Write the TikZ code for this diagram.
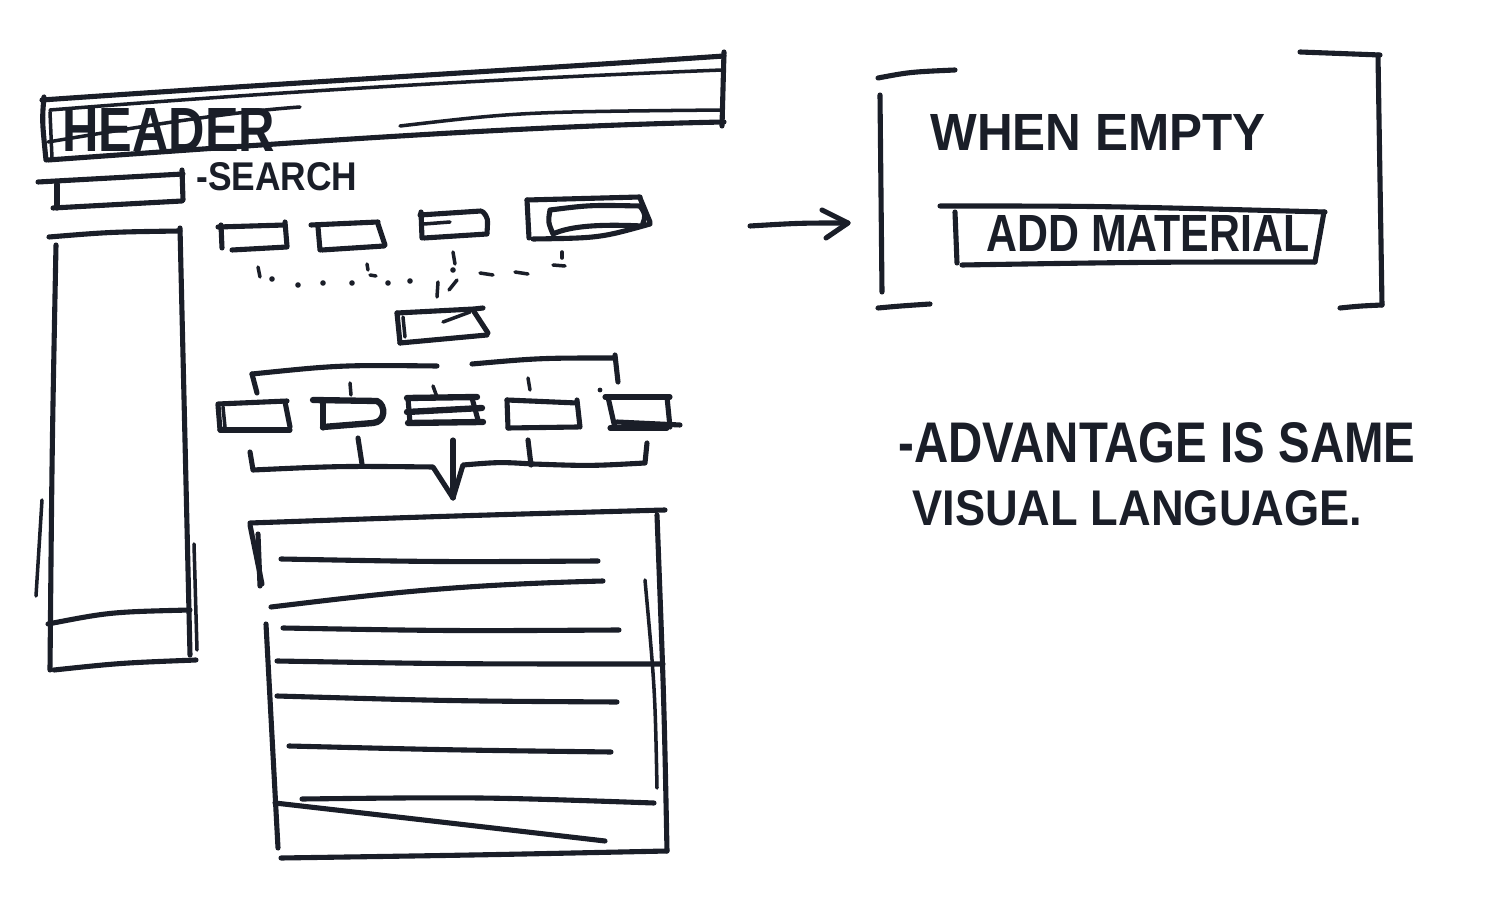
\documentclass[tikz,border=0pt]{standalone}
\usepackage{graphicx}
\usepackage{fontspec}
\setmainfont{Liberation Sans}
\newlength\pxu
\setlength\pxu{0.02cm}
\newcommand\hand[3]{\resizebox{#1\pxu}{#2\pxu}{\bfseries #3}}
\definecolor{ink}{RGB}{26,30,40}
\begin{document}
\begin{tikzpicture}[x=0.02cm,y=-0.02cm,
  pen/.style={draw=ink,line width=2.9pt,line cap=round,line join=round},
  fine/.style={draw=ink,line width=2pt,line cap=round,line join=round},
  heavy/.style={draw=ink,line width=3.6pt,line cap=round,line join=round},
  label/.style={text=ink,inner sep=0pt,anchor=north west}]
\useasboundingbox (0,0) rectangle (1495,908);
\fill[white] (0,0) rectangle (1495,908);

% ---------------- header bar
\draw[pen] (42,100) .. controls (300,82) and (520,70) .. (724,56);
\draw[fine] (50,110) .. controls (300,90) and (520,78) .. (722,70);
\draw[pen] (724,52) -- (722,126);
\draw[pen] (44,97) .. controls (42,120) .. (46,160);
\draw[fine] (50,112) -- (52,158);
\draw[pen] (48,160) .. controls (300,142) and (520,126) .. (724,122);
\draw[fine] (400,126) .. controls (520,112) .. (722,110);
\draw[fine] (48,142) .. controls (150,125) and (230,112) .. (300,107);
\node[label] (header) at (62,108) {\hand{213}{43}{HEADER}};

% ---------------- search
\draw[pen] (38,182) -- (183,174);
\draw[pen] (182,170) -- (183,200);
\draw[pen] (53,208) -- (182,201);
\draw[pen] (57,184) -- (57,208);
\node[label] (search) at (196,162) {\hand{161}{28}{-SEARCH}};

% ---------------- sidebar
\draw[pen] (49,237) .. controls (110,232) .. (180,231);
\draw[pen] (56,245) .. controls (52,450) .. (50,670);
\draw[pen] (180,228) .. controls (185,440) .. (190,655);
\draw[pen] (54,670) .. controls (120,663) .. (196,660);
\draw[pen] (48,624) .. controls (110,612) .. (190,610);
\draw[fine] (42,500) -- (36,596);
\draw[fine] (194,544) -- (197,650);

% ---------------- first row of boxes
\draw[pen] (218,227) -- (285,225);
\draw[pen] (221,225) -- (222,248);
\draw[pen] (285,222) -- (287,246);
\draw[pen] (232,250) -- (287,247);

\draw[pen] (311,225) -- (378,222);
\draw[pen] (318,227) -- (320,250);
\draw[pen] (378,224) -- (385,245);
\draw[pen] (322,250) -- (384,246);

\draw[pen] (420,215) -- (481,211);
\draw[pen] (421,212) -- (422,238);
\draw[pen] (483,212) .. controls (488,218) .. (487,233);
\draw[pen] (424,238) -- (487,234);
\draw[fine] (424,224) -- (450,222);

\draw[pen] (527,200) -- (640,197);
\draw[pen] (527,200) -- (529,238);
\draw[pen] (640,198) -- (650,222);
\draw[pen] (533,239) .. controls (600,238) .. (650,224);
\draw[pen] (550,210) .. controls (590,205) .. (640,206) .. controls (646,215) .. (642,226)
  .. controls (600,224) and (570,226) .. (553,234) .. controls (548,222) .. (550,210);

% ---------------- dotted convergence
\draw[fine] (258,267) -- (260,277);
\foreach \p in {(272,279),(298,285),(323,283),(352,283),(388,283),(410,281),(453,270)}
  \fill[ink] \p circle (2.8);
\draw[fine] (367,264) -- (368,270);
\draw[fine] (370,275) -- (376,276);
\draw[fine] (438,282) -- (437,297);
\draw[fine] (449,290) -- (457,280);
\draw[fine] (453,252) -- (455,264);
\draw[fine] (480,273) -- (493,275);
\draw[fine] (515,272) -- (528,274);
\draw[fine] (553,265) -- (565,266);
\draw[fine] (562,252) -- (562,258);

% ---------------- middle box
\draw[pen] (397,313) -- (474,309) -- (483,308);
\draw[pen] (397,313) -- (400,343);
\draw[pen] (400,343) -- (487,335);
\draw[pen] (473,310) -- (488,333);
\draw[fine] (443,322) -- (470,312);
\draw[fine] (403,317) -- (405,337);

% ---------------- upper bracket
\draw[pen] (252,374) .. controls (340,365) .. (437,366);
\draw[pen] (252,374) -- (257,393);
\draw[pen] (472,364) .. controls (540,358) .. (615,358);
\draw[pen] (615,355) -- (618,382);
\draw[fine] (350,383) -- (351,395);
\draw[fine] (433,386) -- (437,397);
\draw[fine] (528,378) -- (530,390);

% ---------------- second row of boxes
\draw[pen] (218,404) -- (287,401);
\draw[pen] (218,405) -- (220,430);
\draw[pen] (220,430) -- (290,430);
\draw[pen] (285,402) -- (290,427);
\draw[fine] (223,407) -- (225,427);

\draw[heavy] (313,400) -- (377,401) .. controls (386,405) and (386,422) .. (373,423) -- (323,427);
\draw[pen] (323,400) -- (323,428);

\draw[heavy] (407,398) -- (477,397);
\draw[heavy] (407,412) -- (482,408);
\draw[heavy] (408,423) -- (483,422);
\draw[pen] (408,398) -- (410,423);
\draw[pen] (472,398) -- (478,420);

\draw[pen] (507,400) -- (577,403);
\draw[pen] (507,400) -- (508,428);
\draw[pen] (508,428) -- (578,427);
\draw[pen] (577,400) -- (580,427);

\draw[pen] (605,397) -- (670,397);
\draw[pen] (608,397) -- (615,428);
\draw[pen] (610,428) -- (667,428);
\draw[pen] (667,397) -- (670,427);
\draw[pen] (617,422) -- (680,425);
\fill[ink] (600,390) circle (2.4);

% ---------------- lower bracket with arrow
\coordinate (tip) at (453,498);
\draw[pen] (250,452) -- (253,470) .. controls (340,466) .. (433,467) -- (tip) -- (463,465)
  .. controls (500,462) .. (533,464) .. controls (590,466) .. (645,463) -- (647,443);
\draw[pen] (453,440) -- (tip);
\draw[pen] (358,438) -- (362,464);
\draw[pen] (528,440) -- (531,465);

% ---------------- list box
\draw[pen] (250,523) .. controls (450,516) .. (665,510);
\draw[pen] (250,525) -- (262,584);
\draw[pen] (258,534) -- (260,586);
\draw[pen] (266,624) -- (278,848);
\draw[pen] (657,515) .. controls (664,700) .. (667,851);
\draw[fine] (645,580) .. controls (655,690) .. (657,788);
\draw[pen] (281,858) .. controls (480,855) .. (667,851);
\draw[pen] (281,559) .. controls (440,562) .. (598,561);
\draw[pen] (271,607) .. controls (380,594) and (450,585) .. (603,581);
\draw[pen] (283,628) .. controls (450,631) .. (619,630);
\draw[pen] (277,661) .. controls (450,664) .. (663,664);
\draw[pen] (277,696) .. controls (450,701) .. (617,702);
\draw[pen] (289,746) .. controls (450,750) .. (611,752);
\draw[pen] (302,799) .. controls (480,797) .. (654,803);
\draw[pen] (275,803) .. controls (450,823) .. (605,841);

% ---------------- arrow to empty state
\draw[pen] (750,226) .. controls (800,223) .. (848,223);
\draw[pen] (822,210) -- (848,223) -- (826,238);

% ---------------- brackets
\draw[pen] (878,78) .. controls (910,72) .. (955,70);
\draw[pen] (880,95) -- (882,292);
\draw[pen] (878,308) .. controls (900,306) .. (930,304);
\draw[pen] (1300,52) .. controls (1340,53) .. (1380,55);
\draw[pen] (1378,55) -- (1382,305);
\draw[pen] (1340,308) .. controls (1360,306) .. (1382,305);

\node[label] (empty) at (930,114) {\hand{335}{36}{WHEN EMPTY}};

% ---------------- add material button
\draw[pen] (940,206) .. controls (1100,206) .. (1325,212);
\draw[pen] (955,212) -- (957,263);
\draw[pen] (962,265) .. controls (1150,262) .. (1315,262);
\draw[pen] (1324,212) -- (1315,262);
\node[label] (add) at (986,215) {\hand{323}{36}{ADD MATERIAL}};

% ---------------- note
\node[label] (note1) at (898,422) {\hand{517}{40}{-ADVANTAGE IS SAME}};
\node[label] (note2) at (912,490) {\hand{450}{35}{VISUAL LANGUAGE.}};
\end{tikzpicture}
\end{document}
